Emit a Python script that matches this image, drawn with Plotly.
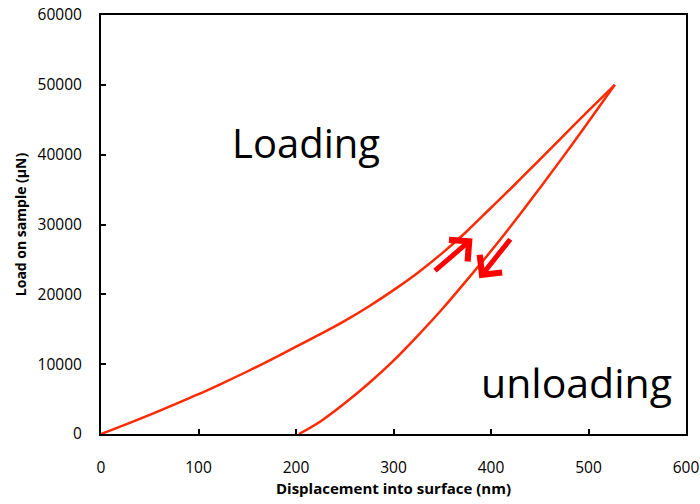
import plotly.graph_objects as go

# Loading curve (displacement nm, load µN)
load_h = [0, 25, 50, 75, 100, 125, 150, 175, 200, 225, 250, 275, 300, 325, 350, 375, 400, 425, 450, 475, 500, 527]
load_p = [0, 1350, 2750, 4200, 5700, 7300, 8950, 10700, 12500, 14300, 16200, 18300, 20600, 23100, 25900, 29000, 32400, 35800, 39300, 42800, 46300, 50000]

# Unloading curve
unload_h = [527, 500, 475, 450, 425, 400, 375, 350, 325, 300, 275, 250, 225, 203]
unload_p = [50000, 44700, 39900, 35200, 30600, 26200, 22000, 17900, 14100, 10500, 7300, 4400, 1800, 0]

# Arrows: (tail x, tail y, head x, head y)
arrow_up = (341, 23200, 381, 28000)
arrow_down = (421, 28100, 388, 22300)

x_ticks = [0, 100, 200, 300, 400, 500, 600]
y_ticks = [0, 10000, 20000, 30000, 40000, 50000, 60000]

curve_color = "#FF2A00"
font = "Open Sans"

fig = go.Figure()
fig.add_trace(go.Scatter(x=load_h, y=load_p, mode="lines",
                         line=dict(color=curve_color, width=2.5, shape="spline"),
                         showlegend=False, hoverinfo="skip"))
fig.add_trace(go.Scatter(x=unload_h, y=unload_p, mode="lines",
                         line=dict(color=curve_color, width=2.5, shape="spline"),
                         showlegend=False, hoverinfo="skip"))

for (tx, ty, hx, hy) in (arrow_up, arrow_down):
    fig.add_annotation(x=hx, y=hy, ax=tx, ay=ty, xref="x", yref="y",
                       axref="x", ayref="y", text="", showarrow=True,
                       arrowhead=4, arrowsize=1.1, arrowwidth=5,
                       arrowcolor="#FF0000")

fig.add_annotation(x=210, y=41800, text="Loading", showarrow=False,
                   xref="x", yref="y", font=dict(family=font, size=40, color="black"))
fig.add_annotation(x=488, y=7400, text="unloading", showarrow=False,
                   xref="x", yref="y", font=dict(family=font, size=41, color="black"))

axis_common = dict(showgrid=False, zeroline=False, showline=True, linecolor="black",
                   linewidth=2, mirror=True, ticks="inside", ticklen=5, tickwidth=1.5,
                   tickcolor="black", tickfont=dict(family=font, size=15.5, color="black"))

fig.update_xaxes(range=[0, 600], tickvals=x_ticks, ticktext=[str(v) for v in x_ticks],
                 ticklabelstandoff=18,
                 title=dict(text="<b>Displacement into surface (nm)</b>", standoff=7,
                            font=dict(family=font, size=15, color="black")),
                 **axis_common)
fig.update_yaxes(range=[0, 60000], tickvals=y_ticks, ticktext=[str(v) for v in y_ticks],
                 ticklabelstandoff=14,
                 title=dict(text="<b>Load on sample (µN)</b>", standoff=8,
                            font=dict(family=font, size=14, color="black")),
                 **axis_common)

fig.update_layout(width=700, height=504, margin=dict(l=101, r=14, t=15, b=70, autoexpand=False),
                  plot_bgcolor="white", paper_bgcolor="white")

fig.write_html("out.html")
